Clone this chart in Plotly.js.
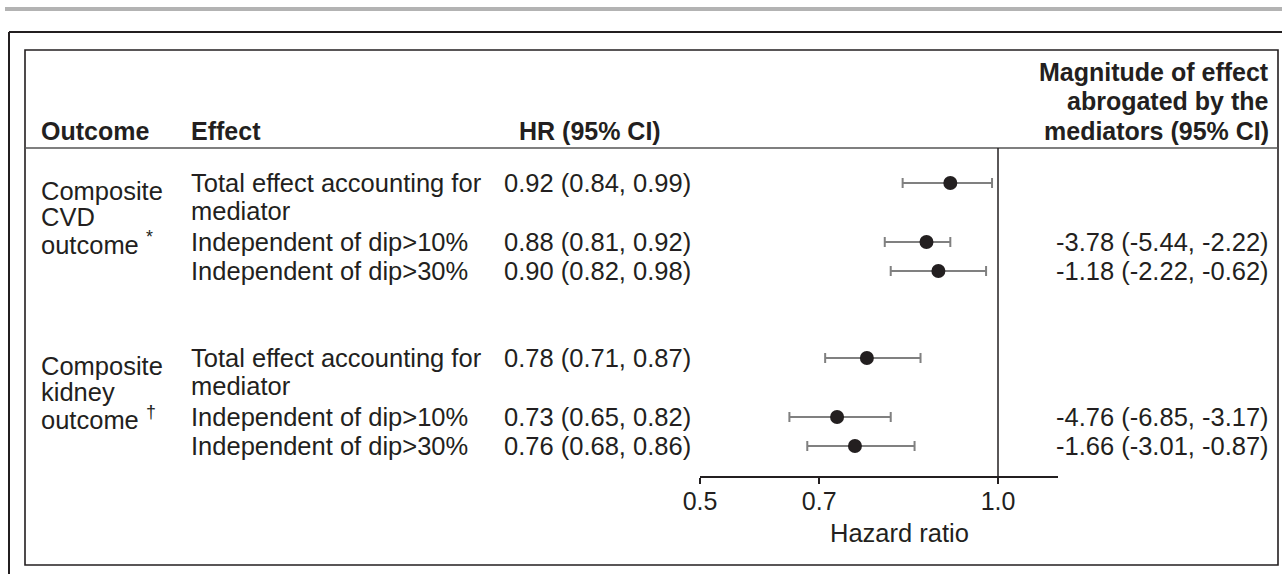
<!DOCTYPE html>
<html>
<head>
<meta charset="utf-8">
<script src="https://cdn.plot.ly/plotly-3.0.1.min.js"></script>
<style>
html,body{margin:0;padding:0;background:#ffffff;}
#chart{width:1282px;height:574px;}
</style>
</head>
<body>
<div id="chart"></div>
<script>
// ---------------- data ----------------
const outcomes = ["Composite<br>CVD<br>outcome <sup>*</sup>", "Composite<br>kidney<br>outcome <sup>†</sup>"];
const effects = ["Total effect accounting for<br>mediator", "Independent of dip>10%", "Independent of dip>30%"];
const hr     = [0.92, 0.88, 0.90, 0.78, 0.73, 0.76];
const hrLow  = [0.84, 0.81, 0.82, 0.71, 0.65, 0.68];
const hrHigh = [0.99, 0.92, 0.98, 0.87, 0.82, 0.86];
const magnitude = ["", "-3.78 (-5.44, -2.22)", "-1.18 (-2.22, -0.62)", "", "-4.76 (-6.85, -3.17)", "-1.66 (-3.01, -0.87)"];
const headers = ["Outcome", "Effect", "HR (95% CI)", "Magnitude of effect<br>abrogated by the<br>mediators (95% CI)"];
const xTickVals = [0.5, 0.7, 1.0];
const xTickText = ["0.5", "0.7", "1.0"];
const xTitle = "Hazard ratio";
const refValue = 1.0;

// ---------------- layout geometry (pixels) ----------------
const W = 1282, H = 574;
const FONT = "Liberation Sans, Arial, Helvetica, sans-serif";
const INK = "#231f20";
const FS = 25.5;
const FSH = 25;
const LINE = 28;
const HEADLINE = 29.5;
const geo = {
  axisY: 476, sepY: 148, innerTop: 50, innerBottom: 565, innerLeft: 25, innerRight: 1278,
  outerLeft: 9, outerTop: 32, barTop: 7, barBottom: 11,
  plotLeft: 700, plotRight: 1057.6,
  colOutcome: 39, colEffect: 189, colHR: 502, colHRHead: 517, colMagRight: 1271,
  headY: 131, groupTop: [183, 358], rowOffset: [0, 59, 88],
  outcomeStart: 8, outcomeLine: 26, titleX: 899, titleY: 533
};
const px = x => x / W;
const py = y => 1 - y / H;

// row positions
const rowY = [];
const rowG = [], rowR = [];
outcomes.forEach((o, g) => effects.forEach((e, r) => {
  rowY.push(geo.groupTop[g] + geo.rowOffset[r]); rowG.push(g); rowR.push(r);
}));

const fmt = v => v.toFixed(2);
const hrText = hr.map((v, i) => `${fmt(v)} (${fmt(hrLow[i])}, ${fmt(hrHigh[i])})`);

const trace = {
  type: "scatter", mode: "markers",
  x: hr, y: rowY,
  marker: {size: 14, color: INK},
  error_x: {type: "data", symmetric: false,
    array: hrHigh.map((v, i) => +(v - hr[i]).toFixed(4)),
    arrayminus: hr.map((v, i) => +(v - hrLow[i]).toFixed(4)),
    color: "#808080", thickness: 2, width: 5},
  cliponaxis: false, hoverinfo: "skip", showlegend: false
};

const ann = [];
function txt(text, x, y, opts, size) {
  ann.push(Object.assign({text: text, x: px(x), y: py(y), xref: "paper", yref: "paper",
    showarrow: false, xanchor: "left", yanchor: "middle",
    font: {family: FONT, size: size || FS, color: INK}}, opts || {}));
}
// headers
txt("<b>" + headers[0] + "</b>", geo.colOutcome, geo.headY, null, FSH);
txt("<b>" + headers[1] + "</b>", geo.colEffect, geo.headY, null, FSH);
txt("<b>" + headers[2] + "</b>", geo.colHRHead, geo.headY, null, FSH);
const mh = headers[3].split("<br>");
mh.forEach((l, k) => txt("<b>" + l + "</b>", geo.colMagRight, geo.headY - (mh.length - 1 - k) * HEADLINE, {xanchor: "right"}, FSH));
// outcome labels
outcomes.forEach((o, g) => {
  o.split("<br>").forEach((l, k) => txt(l, geo.colOutcome, geo.groupTop[g] + geo.outcomeStart + k * geo.outcomeLine));
});
// rows
rowY.forEach((y, i) => {
  effects[rowR[i]].split("<br>").forEach((l, k) => txt(l, geo.colEffect, y + k * LINE));
  txt(hrText[i], geo.colHR, y);
  if (magnitude[i]) txt(magnitude[i], geo.colMagRight, y, {xanchor: "right"});
});
// x title
const xMid = 0.5 + (geo.titleX - geo.plotLeft) / (geo.plotRight - geo.plotLeft) * 0.6;
ann.push({text: xTitle, x: xMid, xref: "x", y: py(geo.titleY), yref: "paper", showarrow: false,
  xanchor: "center", yanchor: "middle", font: {family: FONT, size: FS, color: INK}});

const shapes = [
  {type: "rect", xref: "paper", yref: "paper", x0: px(5), x1: px(W), y0: py(geo.barBottom), y1: py(geo.barTop),
   fillcolor: "#b3b3b3", line: {width: 0}},
  {type: "line", xref: "paper", yref: "paper", x0: px(geo.outerLeft), x1: px(geo.outerLeft), y0: py(geo.outerTop), y1: py(H),
   line: {color: INK, width: 2}},
  {type: "line", xref: "paper", yref: "paper", x0: px(geo.outerLeft), x1: px(W), y0: py(geo.outerTop), y1: py(geo.outerTop),
   line: {color: INK, width: 2}},
  {type: "rect", xref: "paper", yref: "paper", x0: px(geo.innerLeft), x1: px(geo.innerRight), y0: py(geo.innerBottom), y1: py(geo.innerTop),
   line: {color: INK, width: 1.6}},
  {type: "line", xref: "paper", yref: "paper", x0: px(geo.innerLeft), x1: px(geo.innerRight), y0: py(geo.sepY), y1: py(geo.sepY),
   line: {color: "#555555", width: 1.6}},
  {type: "line", xref: "x", yref: "y domain", x0: refValue, x1: refValue, y0: 0, y1: 1,
   line: {color: INK, width: 1.5}}
];

const layout = {
  width: W, height: H, margin: {l: 0, r: 0, t: 0, b: 0},
  paper_bgcolor: "#ffffff", plot_bgcolor: "rgba(0,0,0,0)",
  showlegend: false,
  xaxis: {domain: [px(geo.plotLeft), px(geo.plotRight)], range: [0.5, 1.1], anchor: "y",
    tickvals: xTickVals, ticktext: xTickText, ticks: "outside", ticklen: 6, tickwidth: 1.5, tickcolor: INK,
    ticklabelstandoff: -4,
    showline: true, linecolor: INK, linewidth: 2, showgrid: false, zeroline: false,
    tickfont: {family: FONT, size: 25, color: INK}, fixedrange: true},
  yaxis: {domain: [1 - geo.axisY / H, 1 - geo.sepY / H], range: [geo.axisY, geo.sepY], visible: false,
    showgrid: false, zeroline: false, fixedrange: true},
  shapes: shapes, annotations: ann
};
Plotly.newPlot("chart", [trace], layout, {displayModeBar: false, staticPlot: true});
</script>
</body>
</html>
